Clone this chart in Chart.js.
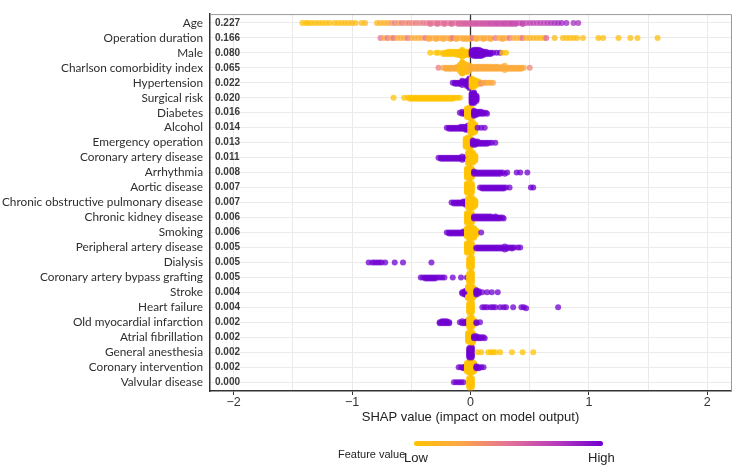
<!DOCTYPE html>
<html>
<head>
<meta charset="utf-8">
<script src="https://cdn.jsdelivr.net/npm/chart.js@4.4.1/dist/chart.umd.min.js"></script>
<style>
html,body{margin:0;padding:0;background:#fff;}
#wrap{position:relative;width:740px;height:470px;overflow:hidden;}
#c{position:absolute;left:0;top:0;}
#cbar{position:absolute;left:414px;top:441px;width:189px;height:5px;border-radius:3px;}
.lbl{position:absolute;font-family:"Liberation Sans",Arial,sans-serif;color:#222;white-space:nowrap;line-height:1;}
</style>
</head>
<body>
<div id="wrap">
<canvas id="c" width="740" height="470"></canvas>
<div id="cbar"></div>
<div class="lbl" style="left:338px;top:449px;font-size:11px;">Feature value</div>
<div class="lbl" style="left:404px;top:451px;font-size:13px;">Low</div>
<div class="lbl" style="left:588px;top:451px;font-size:13px;">High</div>
</div>
<script>
// ---------- DATA ----------
const features = ["Age","Operation duration","Male","Charlson comorbidity index","Hypertension","Surgical risk","Diabetes","Alcohol","Emergency operation","Coronary artery disease","Arrhythmia","Aortic disease","Chronic obstructive pulmonary disease","Chronic kidney disease","Smoking","Peripheral artery disease","Dialysis","Coronary artery bypass grafting","Stroke","Heart failure","Old myocardial infarction","Atrial fibrillation","General anesthesia","Coronary intervention","Valvular disease"];
const importance = ["0.227","0.166","0.080","0.065","0.022","0.020","0.016","0.014","0.013","0.011","0.008","0.007","0.007","0.006","0.006","0.005","0.005","0.005","0.004","0.004","0.002","0.002","0.002","0.002","0.000"];
const xGridValues = [-2,-1.5,-1,-0.5,0,0.5,1,1.5,2];
const xLabelValues = [-2,-1,0,1,2];

// points: [SHAP value, feature value (0 low .. 1 high), number of samples]
const ptsAge = [[-1.42,.02,1],[-1.39,.03,1],[-1.37,.02,1],[-1.34,.04,1],[-1.31,.03,1],[-1.28,.05,1],[-1.25,.04,1],[-1.22,.03,1],[-1.19,.05,1],
[-1.15,.05,1],[-1.12,.06,1],[-1.09,.05,1],[-1.06,.07,1],[-1.03,.06,1],[-1.0,.08,1],[-0.97,.07,1],[-0.92,.08,1],[-0.89,.1,1],
[-0.79,.1,1],[-0.76,.14,1],[-0.73,.12,1],[-0.70,.2,1],[-0.67,.3,1],[-0.64,.42,1],[-0.61,.32,1],[-0.58,.45,1],[-0.55,.35,1],[-0.52,.44,1],[-0.49,.38,1],[-0.46,.47,1],[-0.43,.4,1],[-0.40,.48,1],[-0.37,.44,1],
[-0.34,.5,2],[-0.31,.48,1],[-0.28,.52,2],[-0.25,.5,1],[-0.22,.53,2],[-0.19,.5,1],[-0.16,.55,2],[-0.13,.52,1],[-0.10,.56,2],[-0.07,.55,2],[-0.04,.58,2],[-0.01,.57,2],
[0.02,.6,2],[0.05,.62,2],[0.08,.6,2],[0.11,.63,2],[0.14,.62,2],[0.17,.65,2],[0.20,.63,2],[0.23,.66,2],[0.26,.64,2],[0.29,.67,2],[0.32,.65,2],[0.35,.68,2],[0.38,.66,2],[0.41,.68,1],[0.44,.7,2],[0.47,.68,1],[0.50,.7,1],[0.53,.72,1],[0.56,.7,1],[0.59,.74,1],[0.62,.72,1],[0.65,.76,1],[0.68,.78,1],[0.71,.8,1],
[0.74,.82,1],[0.77,.84,1],[0.81,.85,1],[0.87,.8,1],[0.91,.8,1]];
const ptsOperationDuration = [[-0.76,.5,1],[-0.73,.2,1],[-0.70,.5,1],[-0.67,.2,1],[-0.65,.5,1],[-0.62,.22,1],[-0.59,.2,1],[-0.56,.22,1],[-0.53,.5,1],[-0.50,.2,1],[-0.47,.22,1],[-0.44,.2,1],[-0.41,.22,1],[-0.38,.5,1],[-0.35,.2,2],[-0.32,.22,1],[-0.29,.2,2],[-0.26,.22,1],[-0.23,.2,2],[-0.20,.22,1],[-0.17,.2,2],[-0.15,.5,1],[-0.12,.2,2],[-0.09,.22,1],[-0.06,.2,2],[-0.03,.22,2],[0.0,.2,2],[0.02,.5,1],[0.05,.2,2],[0.08,.22,1],[0.11,.2,2],[0.14,.22,1],[0.17,.2,2],[0.21,.5,1],[0.24,.2,1],[0.27,.22,2],[0.30,.2,1],[0.33,.5,1],[0.36,.2,1],[0.39,.16,1],[0.42,.2,1],[0.44,.5,1],[0.47,.12,1],[0.50,.15,1],[0.53,.1,1],[0.56,.12,1],[0.59,.08,1],[0.62,.12,1],[0.64,.55,1],
[0.71,.08,1],[0.78,.06,1],[0.81,.05,1],[0.84,.06,1],[0.87,.05,1],[0.90,.07,1],[0.95,.05,1],[1.08,.05,1],[1.12,.05,1],[1.25,.04,1],[1.35,.05,1],[1.41,.05,1],[1.58,.05,1]];
const ptsMale = [[-0.34,0,1],[-0.29,0,1],[-0.27,0,1],[-0.23,0,2],[-0.21,0,2],[-0.19,0,3],[-0.17,0,3],[-0.15,0,3],[-0.13,0,3],[-0.11,0,4],[-0.09,0,4],[-0.07,0,4],[-0.05,0,4],[-0.03,0,4],[-0.01,0,4],
[0.01,1,5],[0.03,1,7],[0.05,1,7],[0.07,1,7],[0.09,1,6],[0.11,1,4],[0.13,1,3],[0.15,1,2],[0.17,1,2],[0.19,1,1],[0.22,1,1],[0.25,1,1],[0.27,0,1],[0.30,0,1]];
const ptsCharlson = [[-0.27,.45,1],[-0.23,.22,1],[-0.21,.22,2],[-0.19,.2,2],[-0.17,.22,2],[-0.15,.2,2],[-0.13,.22,2],[-0.11,.18,3],[-0.09,.08,7],[-0.07,.06,9],[-0.05,.06,9],[-0.03,.08,8],[-0.01,.1,6],
[0.01,.2,3],[0.03,.22,3],[0.05,.2,3],[0.07,.22,3],[0.09,.2,3],[0.11,.22,3],[0.13,.2,3],[0.15,.22,3],[0.17,.2,3],[0.19,.22,3],[0.21,.2,3],[0.23,.22,3],[0.25,.2,2],[0.27,.22,3],[0.29,.2,2],[0.31,.22,2],[0.33,.2,2],[0.35,.22,2],[0.37,.2,2],[0.39,.22,2],[0.41,.2,2],[0.43,.22,2],[0.45,.22,1],[0.50,.4,1]];
const ptsHypertension = [[-0.15,1,1],[-0.13,1,2],[-0.11,1,2],[-0.09,1,2],[-0.07,1,3],[-0.05,1,3],[-0.03,1,6],[-0.01,1,10],[0.01,0,9],[0.03,0,8],[0.05,0,5],[0.07,0,3],[0.09,.35,2],[0.11,.2,1],[0.13,.3,1],[0.15,.15,1],[0.17,.2,1],[0.19,.25,1]];
const ptsSurgicalRisk = [[-0.65,0,1],[-0.56,0,1],[-0.53,0,1],[-0.51,0,2],[-0.49,0,2],[-0.47,0,2],[-0.45,0,2],[-0.43,0,2],[-0.41,0,2],[-0.39,0,2],[-0.37,0,2],[-0.35,0,2],[-0.33,0,2],[-0.31,0,2],[-0.29,0,2],[-0.27,0,2],[-0.25,0,2],[-0.23,0,2],[-0.21,0,2],[-0.19,0,2],[-0.17,0,2],[-0.15,0,2],[-0.13,0,1],[-0.11,0,1],[-0.09,0,1],[0.01,1,10],[0.03,1,11],[0.05,1,6]];
const ptsDiabetes = [[-0.09,1,1],[-0.07,1,2],[-0.05,1,2],[-0.03,0,9],[-0.01,0,11],[0.01,0,10],[0.03,1,6],[0.05,1,4],[0.07,1,3],[0.09,1,3],[0.11,1,2],[0.13,1,1],[0.14,1,1]];
const ptsAlcohol = [[-0.20,1,1],[-0.18,1,2],[-0.16,1,2],[-0.14,1,2],[-0.12,1,2],[-0.10,1,2],[-0.08,1,3],[-0.06,1,3],[-0.04,1,4],[-0.02,1,5],[0.0,0,10],[0.02,0,11],[0.04,0,8],[0.06,1,1],[0.09,1,1],[0.12,1,1]];
const ptsEmergency = [[-0.04,0,9],[-0.02,0,11],[0.0,0,10],[0.02,1,5],[0.04,1,4],[0.06,1,3],[0.08,1,2],[0.10,1,2],[0.12,1,2],[0.14,1,2],[0.16,1,1],[0.18,1,1],[0.21,1,1]];
const ptsCoronaryArtery = [[-0.27,1,1],[-0.25,1,2],[-0.23,1,2],[-0.21,1,2],[-0.19,1,2],[-0.17,1,2],[-0.15,1,2],[-0.13,1,2],[-0.11,1,2],[-0.09,1,2],[-0.07,1,2],[-0.05,1,2],[-0.03,1,3],[-0.02,0,9],[0.0,0,11],[0.02,0,11],[0.04,0,6]];
const ptsArrhythmia = [[-0.03,0,10],[-0.01,0,11],[0.01,0,10],[0.03,1,3],[0.05,1,2],[0.07,1,2],[0.09,1,2],[0.11,1,2],[0.13,1,2],[0.15,1,2],[0.17,1,2],[0.19,1,2],[0.21,1,2],[0.23,1,2],[0.25,1,2],[0.27,1,1],[0.29,1,1],[0.31,1,1],[0.39,1,1],[0.42,1,1],[0.48,1,1]];
const ptsAortic = [[-0.03,0,10],[-0.01,0,11],[0.01,0,10],[0.08,1,1],[0.10,1,2],[0.12,1,2],[0.14,1,2],[0.16,1,2],[0.18,1,2],[0.20,1,2],[0.22,1,2],[0.24,1,2],[0.26,1,2],[0.28,1,2],[0.30,1,1],[0.33,1,1],[0.51,1,1],[0.53,1,1]];
const ptsCOPD = [[-0.16,1,1],[-0.14,1,2],[-0.12,1,2],[-0.10,1,2],[-0.08,1,2],[-0.06,1,3],[-0.04,1,4],[-0.02,0,10],[0.0,0,11],[0.02,0,10],[0.04,0,6]];
const ptsCKD = [[-0.03,0,10],[-0.01,0,11],[0.01,0,10],[0.03,1,3],[0.05,1,3],[0.07,1,3],[0.09,1,3],[0.11,1,3],[0.13,1,3],[0.15,1,3],[0.17,1,3],[0.19,1,2],[0.21,1,3],[0.23,1,2],[0.25,1,2],[0.27,1,1],[0.28,1,1]];
const ptsSmoking = [[-0.20,1,1],[-0.18,1,2],[-0.16,1,2],[-0.14,1,2],[-0.12,1,2],[-0.10,1,2],[-0.08,1,2],[-0.06,1,3],[-0.04,1,3],[-0.03,0,9],[-0.01,0,12],[0.01,0,12],[0.03,0,10],[0.05,0,5],[0.09,1,1]];
const ptsPeripheralArtery = [[-0.03,0,10],[-0.01,0,11],[0.01,0,10],[0.05,1,2],[0.07,1,2],[0.09,1,2],[0.11,1,2],[0.13,1,2],[0.15,1,2],[0.17,1,2],[0.19,1,2],[0.21,1,2],[0.23,1,2],[0.25,1,2],[0.27,1,2],[0.29,1,2],[0.31,1,2],[0.33,1,1],[0.35,1,2],[0.37,1,1],[0.40,1,1],[0.42,1,1]];
const ptsDialysis = [[-0.86,1,1],[-0.83,1,1],[-0.81,1,1],[-0.79,1,1],[-0.77,1,1],[-0.75,1,1],[-0.72,1,1],[-0.64,1,1],[-0.57,1,1],[-0.33,1,1],[-0.01,0,10],[0.01,0,11]];
const ptsCABG = [[-0.42,1,1],[-0.40,1,1],[-0.38,1,2],[-0.36,1,2],[-0.34,1,2],[-0.32,1,2],[-0.30,1,2],[-0.28,1,1],[-0.26,1,1],[-0.24,1,1],[-0.22,1,1],[-0.15,1,1],[-0.08,1,1],[-0.03,1,1],[-0.01,0,10],[0.01,0,11]];
const ptsStroke = [[-0.07,1,2],[-0.05,1,4],[-0.03,1,6],[-0.02,0,10],[0.0,0,13],[0.02,0,12],[0.04,0,7],[0.05,1,5],[0.07,1,3],[0.10,1,1],[0.14,1,1],[0.18,1,1],[0.23,1,1]];
const ptsHeartFailure = [[-0.01,0,10],[0.01,0,11],[0.10,1,1],[0.12,1,1],[0.14,1,1],[0.17,1,1],[0.19,1,1],[0.21,1,1],[0.25,1,1],[0.28,1,1],[0.30,1,1],[0.36,1,1],[0.43,1,1],[0.45,1,1],[0.47,1,1],[0.74,1,1]];
const ptsOldMI = [[-0.26,1,2],[-0.24,1,3],[-0.22,1,3],[-0.20,1,3],[-0.18,1,2],[-0.09,1,1],[-0.07,1,2],[-0.05,1,2],[-0.03,1,3],[-0.01,0,10],[0.01,0,11],[0.03,0,5],[0.05,1,2],[0.08,1,1]];
const ptsAtrialFib = [[-0.02,0,9],[0.0,0,11],[0.02,0,10],[0.03,1,3],[0.05,1,3],[0.07,1,2],[0.09,1,2],[0.11,1,1],[0.12,1,1]];
const ptsGeneralAnesthesia = [[-0.01,1,10],[0.01,1,11],[0.06,0,1],[0.09,0,1],[0.15,0,1],[0.17,0,1],[0.19,0,1],[0.21,0,1],[0.25,0,1],[0.35,0,1],[0.44,0,1],[0.53,0,1]];
const ptsCoronaryIntervention = [[-0.10,1,1],[-0.08,1,1],[-0.06,1,2],[-0.04,1,3],[-0.03,0,9],[-0.01,0,13],[0.01,0,13],[0.03,0,9],[0.05,1,3],[0.07,1,2],[0.09,1,1],[0.11,1,1]];
const ptsValvular = [[-0.14,1,1],[-0.12,1,1],[-0.10,1,1],[-0.08,1,1],[-0.06,1,1],[-0.01,0,10],[0.01,0,10]];

const rows = [ptsAge,ptsOperationDuration,ptsMale,ptsCharlson,ptsHypertension,ptsSurgicalRisk,ptsDiabetes,ptsAlcohol,ptsEmergency,ptsCoronaryArtery,ptsArrhythmia,ptsAortic,ptsCOPD,ptsCKD,ptsSmoking,ptsPeripheralArtery,ptsDialysis,ptsCABG,ptsStroke,ptsHeartFailure,ptsOldMI,ptsAtrialFib,ptsGeneralAnesthesia,ptsCoronaryIntervention,ptsValvular];

// ---------- colour map ----------
const cmapStops = [[0,[255,195,0]],[0.25,[252,166,72]],[0.5,[228,114,150]],[0.75,[185,60,186]],[1,[112,0,210]]];
function cmap(t, a){
  t = Math.max(0, Math.min(1, t));
  for (let i=1;i<cmapStops.length;i++){
    const [t1,c1]=cmapStops[i-1],[t2,c2]=cmapStops[i];
    if (t<=t2){ const f=(t-t1)/(t2-t1);
      const c=c1.map((v,k)=>Math.round(v+(c2[k]-v)*f));
      return `rgba(${c[0]},${c[1]},${c[2]},${a})`; }
  }
  return `rgba(112,0,210,${a})`;
}
document.getElementById('cbar').style.background =
  'linear-gradient(to right,' + cmapStops.map(s=>cmap(s[0],1)+' '+(s[0]*100)+'%').join(',') + ')';

// ---------- beeswarm layout (stack samples that share a bin) ----------
const BIN = 0.02, STEP = 0.07, MAXOFF = 0.36;
function swarm(points, row){
  const out=[]; const bins=new Map();
  points.forEach(p=>{
    const b=Math.round(p[0]/BIN);
    if(!bins.has(b)) bins.set(b,0);
    for(let k=0;k<p[2];k++){
      const layer=bins.get(b);
      const off=Math.ceil(layer/2)*((layer%2)*2-1);
      bins.set(b,layer+1);
      const dy=Math.max(-MAXOFF,Math.min(MAXOFF,off*STEP));
      out.push({x:p[0], y:row+dy, fv:p[1]});
    }
  });
  return out;
}

const datasets = rows.map((r,i)=>({
  data: swarm(r,i),
  pointRadius: 3, pointHoverRadius: 3, borderWidth: 0,
  backgroundColor: ctx => ctx.raw ? cmap(ctx.raw.fv, 0.75) : 'transparent'
}));

const fmt = v => v<0 ? '\u2212'+Math.abs(v) : String(v);

const framePlugin = {
  id:'frame',
  beforeDatasetsDraw(chart){
    const {ctx, chartArea:a, scales:{x}} = chart;
    const px = x.getPixelForValue(0);
    ctx.save(); ctx.strokeStyle='#333'; ctx.lineWidth=1.3;
    ctx.beginPath(); ctx.moveTo(px,a.top); ctx.lineTo(px,a.bottom); ctx.stroke(); ctx.restore();
  },
  afterDraw(chart){
    const {ctx, chartArea:a} = chart;
    ctx.save(); ctx.strokeStyle='#9a9a9a'; ctx.lineWidth=1;
    ctx.beginPath(); ctx.moveTo(a.left,a.top+0.5); ctx.lineTo(a.right+0.5,a.top+0.5); ctx.lineTo(a.right+0.5,a.bottom); ctx.stroke(); ctx.restore();
  }
};

new Chart(document.getElementById('c'), {
  type:'scatter',
  data:{datasets},
  options:{
    responsive:false, animation:false, devicePixelRatio:1, events:[],
    layout:{padding:{top:8,right:9,left:0,bottom:0}},
    plugins:{legend:{display:false}, tooltip:{enabled:false}},
    scales:{
      x:{type:'linear', min:-2.2, max:2.2,
        afterBuildTicks:s=>{s.ticks=xGridValues.map(v=>({value:v}));},
        afterFit:s=>{s.height=79;},
        ticks:{autoSkip:false, maxRotation:0, padding:0, color:'#333',
          font:{family:'"Liberation Sans", Arial, sans-serif', size:12.5},
          callback:v=> xLabelValues.includes(v) ? fmt(v) : ''},
        grid:{color:'#e9e9e9', tickLength:4,
          tickColor:c=> (c.tick && xLabelValues.includes(c.tick.value)) ? '#333' : 'rgba(0,0,0,0)'},
        border:{color:'#333', width:1.5},
        title:{display:true, text:'SHAP value (impact on model output)', color:'#222',
          font:{family:'"Liberation Sans", Arial, sans-serif', size:13}, padding:{top:0,bottom:45}}
      },
      y:{type:'linear', position:'left', weight:1, reverse:true, min:-0.59, max:24.59,
        afterBuildTicks:s=>{s.ticks=features.map((f,i)=>({value:i}));},
        afterFit:s=>{s.width=210;},
        ticks:{autoSkip:false, padding:7, color:'#2e2e2e',
          font:{family:'Lato, "Open Sans", sans-serif', size:11.8},
          callback:v=>features[v]},
        grid:{color:'#ebebeb', drawTicks:false},
        border:{color:'#333', width:1.5}
      },
      y2:{type:'linear', position:'left', weight:0, reverse:true, min:-0.59, max:24.59,
        afterBuildTicks:s=>{s.ticks=importance.map((f,i)=>({value:i}));},
        afterFit:s=>{s.width=0;},
        ticks:{autoSkip:false, mirror:true, padding:5, color:'#3a3a3a',
          font:{family:'"Liberation Sans", Arial, sans-serif', size:10, weight:'bold'},
          callback:v=>importance[v]},
        grid:{display:false, drawTicks:false},
        border:{display:false}
      }
    }
  },
  plugins:[framePlugin]
});
</script>
</body>
</html>
